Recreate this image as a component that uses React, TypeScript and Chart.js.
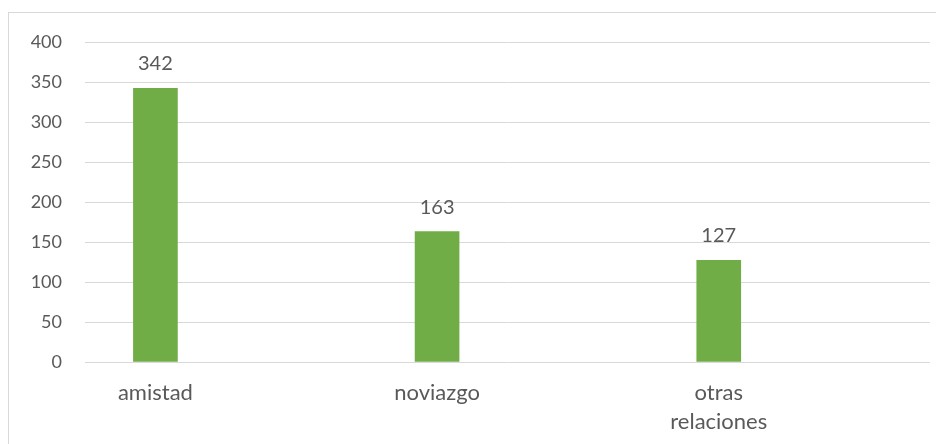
import React, { useEffect, useRef } from "react";
import { Chart, registerables } from "chart.js";

Chart.register(...registerables);

const categories = ["amistad", "noviazgo", "otras relaciones"];
const values = [342, 163, 127];
const yTicks = [0, 50, 100, 150, 200, 250, 300, 350, 400];

const FONT = "Lato, 'Open Sans', sans-serif";
const TEXT = "#595959";

const labelPlugin = {
  id: "valueLabels",
  afterDatasetsDraw(chart: any) {
    const ctx = chart.ctx;
    const meta = chart.getDatasetMeta(0);
    ctx.save();
    ctx.font = `20px ${FONT}`;
    ctx.fillStyle = TEXT;
    ctx.textAlign = "center";
    ctx.textBaseline = "alphabetic";
    meta.data.forEach((bar: any, i: number) => {
      ctx.fillText(String(values[i]), bar.x, bar.y - 18);
    });
    ctx.restore();
  },
};

export default function App() {
  const ref = useRef<HTMLCanvasElement | null>(null);
  useEffect(() => {
    if (!ref.current) return;
    const chart = new Chart(ref.current, {
      type: "bar",
      data: {
        datasets: [
          {
            data: values.map((v, i) => ({ x: i, y: v })),
            backgroundColor: "#70AD47",
            barThickness: 44,
          },
        ],
      },
      options: {
        animation: false,
        responsive: false,
        layout: { padding: { left: 0, right: 14, top: 29, bottom: 0 } },
        plugins: { legend: { display: false }, tooltip: { enabled: false } },
        scales: {
          x: {
            type: "linear",
            offset: false,
            min: -0.25,
            max: 2.75,
            grid: { display: false, drawTicks: false, offset: false },
            border: { display: false },
            afterBuildTicks: (scale: any) => {
              scale.ticks = categories.map((_, i) => ({ value: i }));
            },
            afterFit: (scale: any) => {
              scale.height = 82;
              scale.paddingLeft = 0;
              scale.paddingRight = 0;
            },
            ticks: {
              autoSkip: false,
              maxRotation: 0,
              padding: 16,
              color: TEXT,
              font: { family: FONT, size: 22, lineHeight: 1.32 },
              callback: (v: any) => {
                const l = categories[Math.round(v)];
                if (l === undefined) return "";
                return l.includes(" ") ? l.split(" ") : l;
              },
            },
          },
          y: {
            min: 0,
            max: 400,
            afterBuildTicks: (scale: any) => {
              scale.ticks = yTicks.map((v) => ({ value: v }));
            },
            afterFit: (scale: any) => {
              scale.width = 76;
              scale.paddingTop = 0;
              scale.paddingBottom = 0;
            },
            grid: { color: "#d9d9d9", lineWidth: 1, drawTicks: false },
            border: { display: false },
            ticks: {
              padding: 23,
              color: TEXT,
              font: { family: FONT, size: 18 },
            },
          },
        },
      },
      plugins: [labelPlugin],
    } as any);
    return () => chart.destroy();
  }, []);
  return (
    <div style={{ paddingTop: 4 }}>
      <div
        style={{
          width: 935,
          height: 431,
          borderLeft: "1px solid #d9d9d9",
          borderTop: "1px solid #d9d9d9",
          overflow: "hidden",
        }}
      >
        <canvas ref={ref} width={935} height={431} style={{ display: "block" }} />
      </div>
    </div>
  );
}
